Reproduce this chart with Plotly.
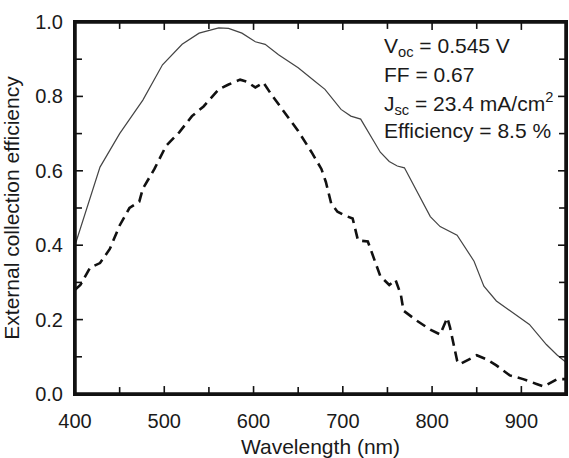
import plotly.graph_objects as go

solid_x = [400, 428, 450, 476, 498, 520, 539, 561, 572, 587, 602, 613, 628, 650, 669, 680, 698, 709, 720, 731, 742, 752, 761, 769, 783, 798, 809, 828, 847, 858, 872, 894, 909, 928, 940, 950]
solid_y = [0.40, 0.61, 0.70, 0.79, 0.885, 0.94, 0.97, 0.984, 0.983, 0.97, 0.947, 0.94, 0.912, 0.877, 0.84, 0.819, 0.765, 0.747, 0.739, 0.693, 0.65, 0.625, 0.613, 0.608, 0.544, 0.477, 0.45, 0.427, 0.357, 0.29, 0.25, 0.213, 0.187, 0.133, 0.105, 0.085]

dash_x = [400, 406, 417, 428, 439, 450, 461, 472, 476, 489, 502, 517, 531, 544, 561, 572, 585, 592, 602, 611, 620, 635, 650, 665, 676, 681, 687, 694, 702, 711, 717, 728, 735, 742, 752, 759, 765, 768, 783, 798, 809, 817, 820, 828, 831, 839, 850, 861, 872, 887, 902, 917, 925, 940, 950]
dash_y = [0.28, 0.293, 0.34, 0.352, 0.39, 0.453, 0.50, 0.517, 0.552, 0.605, 0.667, 0.704, 0.747, 0.773, 0.819, 0.832, 0.845, 0.84, 0.824, 0.837, 0.805, 0.757, 0.707, 0.65, 0.605, 0.57, 0.512, 0.49, 0.48, 0.472, 0.413, 0.41, 0.365, 0.317, 0.293, 0.307, 0.267, 0.224, 0.197, 0.173, 0.16, 0.205, 0.18, 0.09, 0.08, 0.09, 0.104, 0.093, 0.077, 0.05, 0.04, 0.027, 0.02, 0.04, 0.04]

x_range = [400, 950]
y_range = [0.0, 1.0]
x_ticks = [400, 500, 600, 700, 800, 900]
x_minor = [450, 550, 650, 750, 850]
y_ticks = [0.0, 0.2, 0.4, 0.6, 0.8, 1.0]
y_minor = [0.1, 0.3, 0.5, 0.7, 0.9]
notes = ["V<sub>oc</sub> = 0.545 V", "FF = 0.67", "J<sub>sc</sub> = 23.4 mA/cm<sup>2</sup>", "Efficiency = 8.5 %"]

W, H = 569, 458
ML, MR, MT, MB = 75, 1, 22, 61
plot_w, plot_h = W - ML - MR, H - MT - MB

font = "Liberation Sans, Arial, sans-serif"
ink = "#111111"
txt_col = "#1a1a1a"

fig = go.Figure()
fig.add_trace(go.Scatter(x=solid_x, y=solid_y, mode="lines",
                         line=dict(color="#444444", width=1.2), showlegend=False, hoverinfo="skip"))
fig.add_trace(go.Scatter(x=dash_x, y=dash_y, mode="lines",
                         line=dict(color="#111111", width=2.6, dash="10px,6px"), showlegend=False, hoverinfo="skip"))

# inward tick marks on all four sides (lengths in pixels converted to axis units)
dx_per_px = (x_range[1] - x_range[0]) / plot_w
dy_per_px = (y_range[1] - y_range[0]) / plot_h
tx, ty = [], []
for vals, L in ((x_ticks, 8), (x_minor, 7)):
    for v in vals:
        tx += [v, v, None, v, v, None]
        ty += [y_range[0], y_range[0] + L * dy_per_px, None, y_range[1], y_range[1] - L * dy_per_px, None]
for vals, L in ((y_ticks[1:-1], 8), (y_minor, 7)):
    for v in vals:
        tx += [x_range[0], x_range[0] + L * dx_per_px, None, x_range[1], x_range[1] - L * dx_per_px, None]
        ty += [v, v, None, v, v, None]
fig.add_trace(go.Scatter(x=tx, y=ty, mode="lines", line=dict(color=ink, width=1.6),
                         showlegend=False, hoverinfo="skip"))

# frame around the plot area (clipped to the plot area, so drawn wider)
fig.add_trace(go.Scatter(x=[x_range[0], x_range[1], x_range[1], x_range[0], x_range[0]],
                         y=[y_range[0], y_range[0], y_range[1], y_range[1], y_range[0]],
                         mode="lines", line=dict(color=ink, width=3.5),
                         showlegend=False, hoverinfo="skip"))

note_y = [47, 75, 104, 131]
for txt, py in zip(notes, note_y):
    fig.add_annotation(x=(383 - ML) / plot_w, xref="paper", y=1 - (py - MT) / plot_h, yref="paper",
                       text=txt, showarrow=False, xanchor="left", yanchor="middle",
                       font=dict(family=font, size=21, color=txt_col))

axis_common = dict(showline=True, linecolor=ink, linewidth=2, mirror=True, ticks="",
                   showgrid=False, zeroline=False,
                   tickfont=dict(family=font, size=20, color=txt_col))

fig.update_xaxes(range=x_range, tickvals=x_ticks, ticklabelstandoff=8,
                 title=dict(text="Wavelength (nm)", font=dict(family=font, size=21, color=txt_col), standoff=10),
                 **axis_common)
fig.update_yaxes(range=y_range, tickvals=y_ticks, tickformat=".1f", ticklabelstandoff=6,
                 title=dict(text="External collection efficiency", font=dict(family=font, size=21, color=txt_col), standoff=10),
                 **axis_common)

fig.update_layout(width=W, height=H, margin=dict(l=ML, r=MR, t=MT, b=MB),
                  plot_bgcolor="white", paper_bgcolor="white", hovermode=False)

fig.write_html("out.html", config={"displayModeBar": False},
               post_script="document.body.style.margin='0px';")
